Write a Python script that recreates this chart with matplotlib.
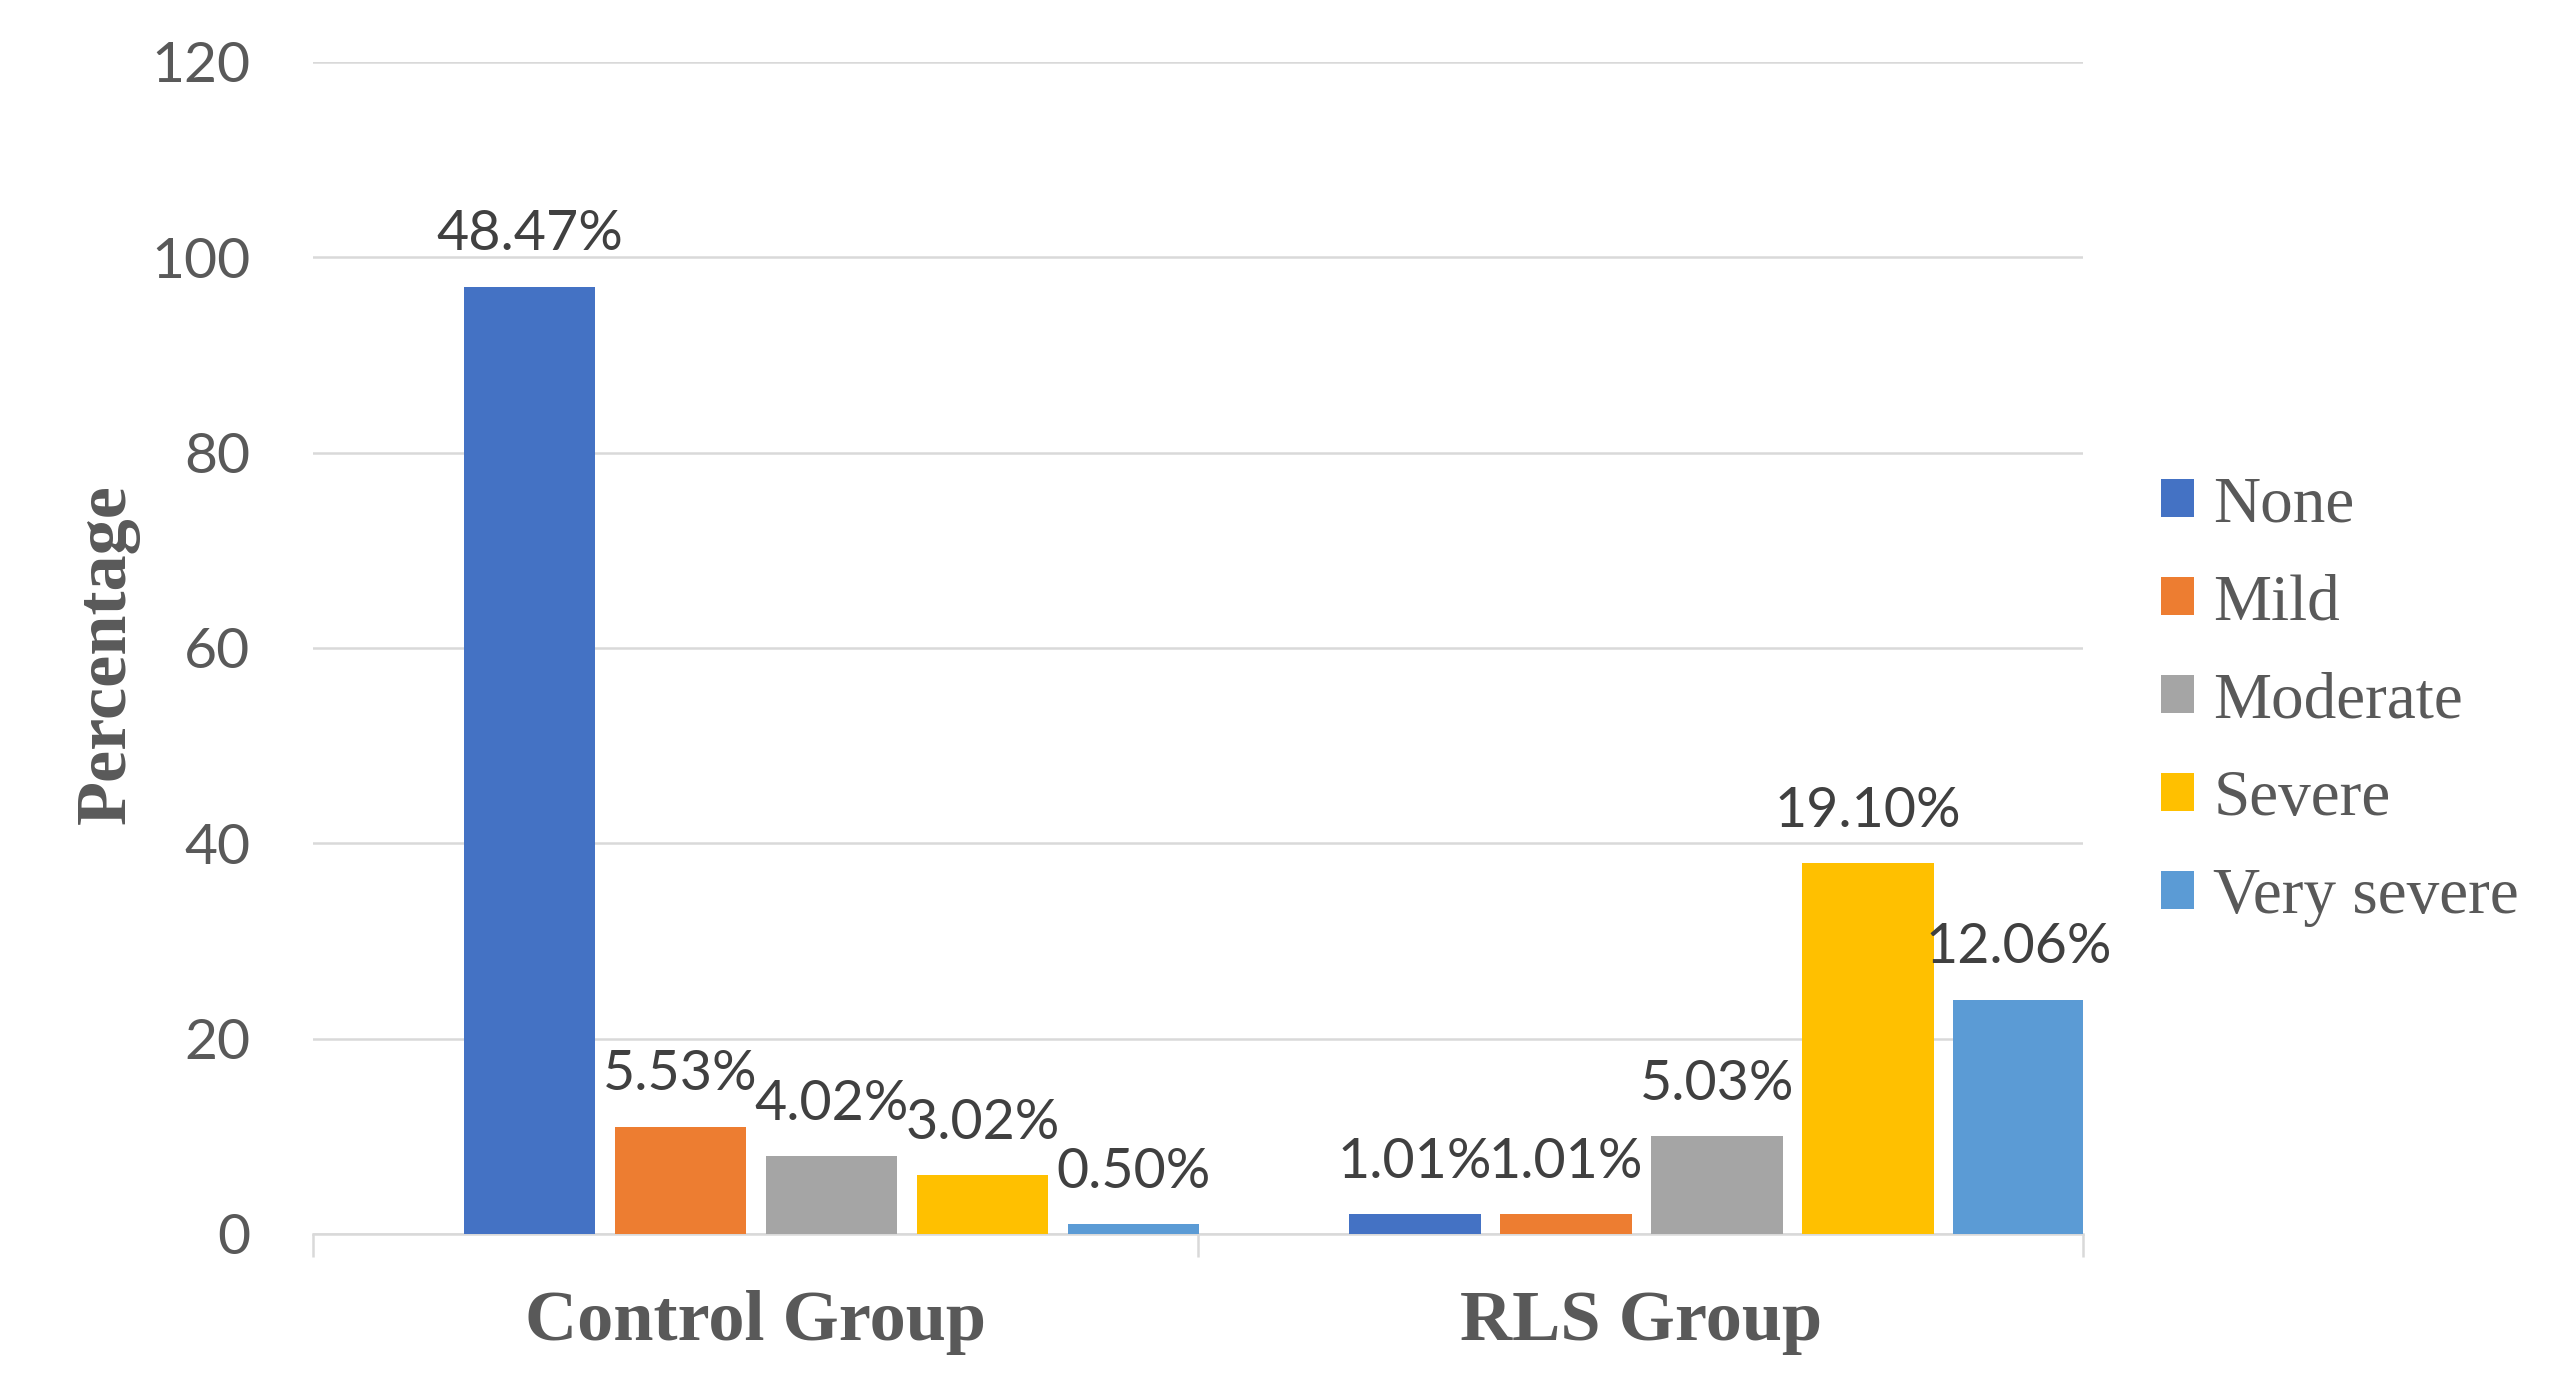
import matplotlib
matplotlib.use('Agg')
import matplotlib.pyplot as plt
import numpy as np

# Data
groups = ['Control Group', 'RLS Group']
levels = ['None', 'Mild', 'Moderate', 'Severe', 'Very severe']
colors = ['#4472C4', '#ED7D31', '#A5A5A5', '#FFC000', '#5B9BD5']

none_vals = [97, 2]
mild_vals = [11, 2]
moderate_vals = [8, 10]
severe_vals = [6, 38]
very_severe_vals = [1, 24]

none_labels = ['48.47%', '1.01%']
mild_labels = ['5.53%', '1.01%']
moderate_labels = ['4.02%', '5.03%']
severe_labels = ['3.02%', '19.10%']
very_severe_labels = ['0.50%', '12.06%']

series = [none_vals, mild_vals, moderate_vals, severe_vals, very_severe_vals]
series_labels = [none_labels, mild_labels, moderate_labels, severe_labels, very_severe_labels]

fig = plt.figure(figsize=(25.62, 13.89), dpi=100)
ax = fig.add_axes([0.1222, 0.1116, 0.8132 - 0.1222, 0.8438])

x = np.arange(len(groups))
bar_w = 0.149
step = 0.1706
start = -0.33

for i, (vals, labs) in enumerate(zip(series, series_labels)):
    left = x + start + i * step
    bars = ax.bar(left, vals, width=bar_w, align='edge', color=colors[i], label=levels[i], zorder=3)
    for b, lab in zip(bars, labs):
        ax.annotate(lab, (b.get_x() + b.get_width() / 2, b.get_height()),
                    xytext=(0, 26), textcoords='offset points', ha='center', va='baseline',
                    fontsize=40, color='#404040', family='Lato')

# Axes styling
ax.set_xlim(-0.5, 1.5)
ax.set_ylim(0, 120)
ax.set_yticks(range(0, 121, 20))
ax.yaxis.grid(True, color='#d9d9d9', linewidth=1.8, zorder=0)
ax.set_axisbelow(True)
for s in ['top', 'right', 'left']:
    ax.spines[s].set_visible(False)
ax.spines['bottom'].set_color('#d9d9d9')
ax.spines['bottom'].set_linewidth(1.8)

ax.set_xticks(x)
ax.set_xticklabels(groups, fontsize=52, fontweight='bold', family='Liberation Serif', color='#595959')
ax.set_xticks([-0.5, 0.5, 1.5], minor=True)
ax.tick_params(axis='x', which='major', length=0, pad=40)
ax.tick_params(axis='x', which='minor', length=16.5, width=1.8, color='#d9d9d9', direction='out')
ax.tick_params(axis='y', length=0, pad=45, labelsize=41, labelcolor='#595959')
for t in ax.get_yticklabels():
    t.set_family('Lato')

fig.text(0.0418, 0.529, 'Percentage', rotation=90, ha='center', va='center',
         fontsize=52, fontweight='bold', family='Liberation Serif', color='#595959')

leg = ax.legend(loc='center left', bbox_to_anchor=(0.8435, 0.495), bbox_transform=fig.transFigure,
                frameon=False, handlelength=0.5, handleheight=0.5,
                handletextpad=0.3, labelspacing=0.59, borderpad=0, borderaxespad=0,
                prop={'family': 'Liberation Serif', 'size': 47})
for t in leg.get_texts():
    t.set_color('#595959')

fig.savefig('out.png', dpi=100)
